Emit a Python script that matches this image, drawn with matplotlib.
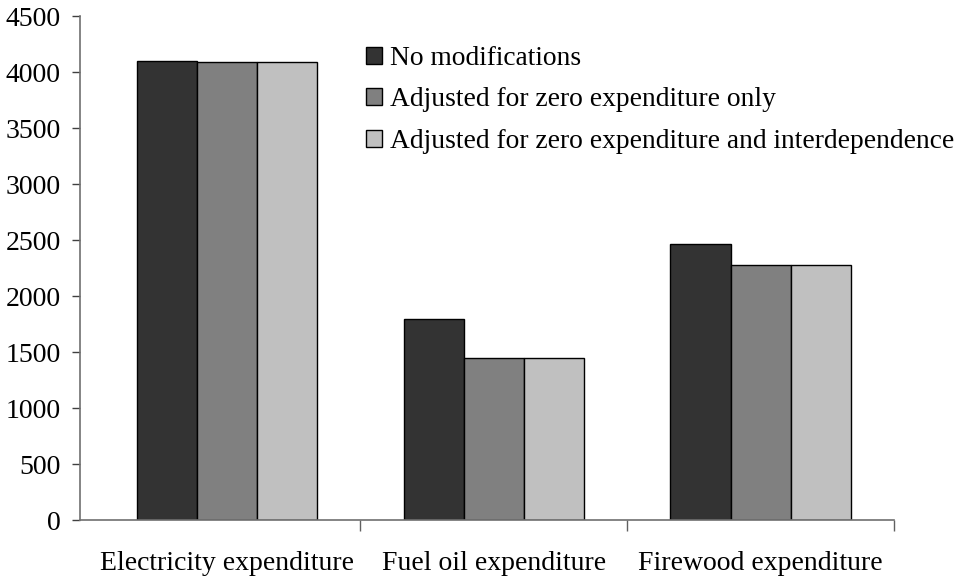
import matplotlib.pyplot as plt
import numpy as np

categories = ["Electricity expenditure", "Fuel oil expenditure", "Firewood expenditure"]
series_names = ["No modifications",
                "Adjusted for zero expenditure only",
                "Adjusted for zero expenditure and interdependence"]
no_mod = [4100, 1795, 2465]
zero_only = [4090, 1450, 2280]
zero_interdep = [4090, 1450, 2280]
colors = ["#333333", "#808080", "#c0c0c0"]

plt.rcParams['font.family'] = ['Liberation Serif', 'DejaVu Serif']
plt.rcParams['font.size'] = 20

fig = plt.figure(figsize=(9.58, 5.76), dpi=100)
ax = fig.add_axes([80 / 958, 56 / 576, 814 / 958, 504 / 576])

x = np.arange(len(categories))
w = 0.225
for i, (vals, name) in enumerate(zip([no_mod, zero_only, zero_interdep], series_names)):
    ax.bar(x + (i - 1) * w, vals, w, color=colors[i], edgecolor="black",
           linewidth=1.0, label=name, zorder=2)

ax.set_ylim(0, 4500)
ax.set_yticks(np.arange(0, 4501, 500))
ax.set_xlim(-0.55, 2.5)

# category boundaries get tick marks, names sit at centers
ax.set_xticks([0.5, 1.5, 2.5])
ax.set_xticklabels([])
ax.set_xticks(x, minor=True)
ax.set_xticklabels(categories, minor=True)
ax.tick_params(axis="x", which="major", length=8, width=1, color="#606060", direction="out")
ax.tick_params(axis="x", which="minor", length=0, pad=22)
ax.tick_params(axis="y", length=6, width=1, color="#404040", pad=8)

for s in ["top", "right"]:
    ax.spines[s].set_visible(False)
for s in ["left", "bottom"]:
    ax.spines[s].set_color("#707070")
    ax.spines[s].set_linewidth(1.2)

ax.legend(loc="upper left", bbox_to_anchor=(366 / 958, 1 - 46 / 576),
          bbox_transform=fig.transFigure, frameon=False,
          handlelength=0.58, handleheight=0.58, handletextpad=0.3,
          labelspacing=0.6, borderaxespad=0, borderpad=0, fontsize=19.8)

fig.savefig("out.png", dpi=100)
